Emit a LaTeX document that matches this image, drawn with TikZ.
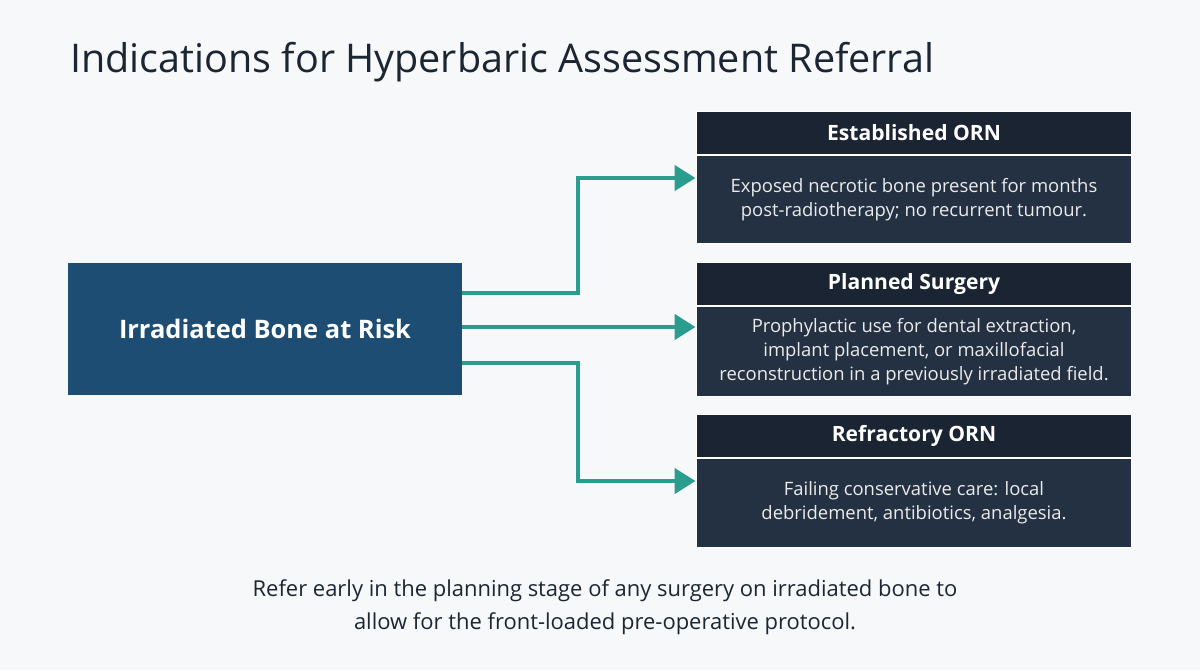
\documentclass[tikz,border=0pt]{standalone}
\usepackage{fontspec}
\setmainfont{Open Sans}
\usetikzlibrary{positioning,arrows.meta}
\definecolor{bgcol}{HTML}{F7F8F9}
\definecolor{riskblue}{HTML}{1E4D73}
\definecolor{headnavy}{HTML}{1A2433}
\definecolor{bodynavy}{HTML}{243142}
\definecolor{teal}{HTML}{2A9D8F}
\definecolor{titlecol}{HTML}{1C2633}
\tikzset{
  head/.style={fill=headnavy,draw=white,line width=0.6pt,minimum width=8.72cm,minimum height=0.86cm,
    text=white,font=\bfseries\fontsize{12}{14}\selectfont,inner sep=0pt},
  body/.style={fill=bodynavy,draw=white,line width=0.6pt,minimum width=8.72cm,text=white!92!black,
    font=\fontsize{10.5}{13.5}\selectfont,align=center,inner sep=0pt},
  link/.style={teal,line width=2.6pt,-{Triangle[length=0.42cm,width=0.5cm]}}
}
\begin{document}
\begin{tikzpicture}[x=0.02cm,y=-0.02cm]
  \fill[bgcol] (0,0) rectangle (1200,670);
  \useasboundingbox (0,0) rectangle (1200,670);
  \node[anchor=west,text=titlecol,font=\fontsize{22.5}{26}\selectfont] (title) at (64,62)
    {Indications for Hyperbaric Assessment Referral};
  \node[fill=riskblue,minimum width=7.88cm,minimum height=2.64cm,text=white,
    font=\bfseries\fontsize{14.5}{17}\selectfont] (risk) at (265,329) {Irradiated Bone at Risk};
  % right-hand boxes
  \node[head] (h1) at (914,133) {Established ORN};
  \node[body,minimum height=1.76cm,below=0pt of h1] (b1)
    {Exposed necrotic bone present for months\\post-radiotherapy; no recurrent tumour.};
  \node[head] (h2) at (914,284) {Planned Surgery};
  \node[body,minimum height=1.8cm,below=0pt of h2] (b2)
    {Prophylactic use for dental extraction,\\implant placement, or maxillofacial\\reconstruction in a previously irradiated field.};
  \node[head] (h3) at (914,436) {Refractory ORN};
  \node[body,minimum height=1.78cm,below=0pt of h3] (b3)
    {Failing conservative care: local\\debridement, antibiotics, analgesia.};
  % connectors
  \coordinate (s1) at (462,293);
  \coordinate (s3) at (462,363);
  \draw[link] (s1) -| (578,178) -- (b1.west |- 0,178);
  \draw[link] (risk.east |- 0,327) -- (b2.west |- 0,327);
  \draw[link] (s3) -| (578,481) -- (b3.west |- 0,481);
  \node[text=titlecol,align=center,font=\fontsize{12.5}{18.5}\selectfont] (note) at (605,607)
    {Refer early in the planning stage of any surgery on irradiated bone to\\allow for the front-loaded pre-operative protocol.};
\end{tikzpicture}
\end{document}
